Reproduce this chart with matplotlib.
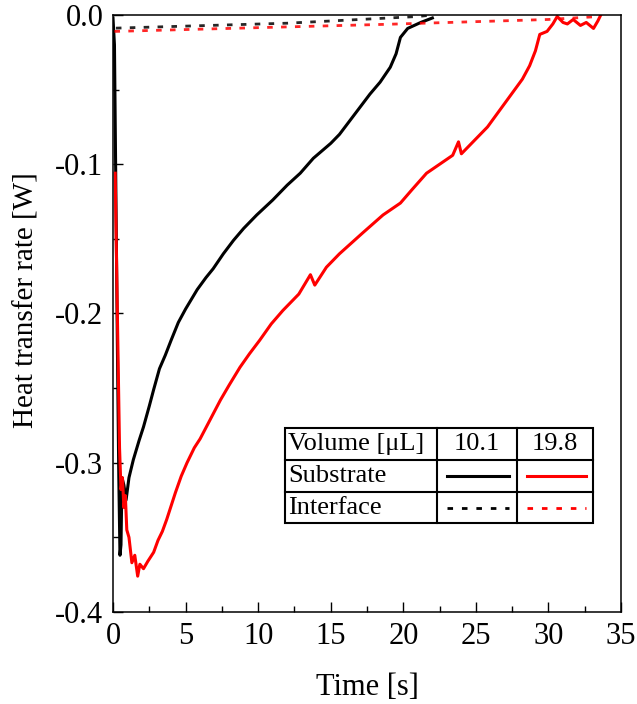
import numpy as np
import matplotlib
matplotlib.use("Agg")
import matplotlib.pyplot as plt
from matplotlib.ticker import MultipleLocator, FormatStrFormatter

plt.rcParams['font.family'] = ['Liberation Serif', 'DejaVu Serif']
plt.rcParams['axes.unicode_minus'] = False

# substrate heat transfer rate, 10.1 uL droplet (black)
t_sub_10 = [0.0, 0.1, 0.2, 0.3, 0.4, 0.48, 0.55, 0.62, 0.75, 0.9, 1.1, 1.4, 1.8,
            2.1, 2.5, 2.8, 3.2, 3.6, 4.0, 4.5, 5.0, 5.8, 6.4, 6.9, 7.6, 8.3, 9.0,
            9.9, 11.0, 12.0, 12.9, 13.8, 15.0, 15.6, 16.3, 17.0, 17.7, 18.4, 19.1,
            19.5, 19.8, 20.3, 21.2, 22.0]
q_sub_10 = [-0.002, -0.02, -0.12, -0.22, -0.31, -0.362, -0.355, -0.31, -0.315,
            -0.325, -0.31, -0.298, -0.285, -0.276, -0.262, -0.251, -0.237, -0.228,
            -0.218, -0.206, -0.197, -0.184, -0.176, -0.170, -0.160, -0.151, -0.143,
            -0.134, -0.124, -0.114, -0.106, -0.096, -0.086, -0.080, -0.071, -0.062,
            -0.053, -0.045, -0.035, -0.026, -0.015, -0.009, -0.005, -0.002]

# substrate heat transfer rate, 19.8 uL droplet (red)
t_sub_19 = [0.15, 0.3, 0.45, 0.55, 0.65, 0.75, 0.85, 0.95, 1.1, 1.3, 1.5, 1.7, 1.85,
            2.1, 2.4, 2.8, 3.1, 3.4, 3.7, 3.9, 4.3, 4.7, 5.1, 5.6, 6.0, 6.7, 7.4,
            8.0, 8.75, 9.4, 10.1, 10.9, 11.7, 12.8, 13.6, 13.9, 14.7, 15.6, 16.4,
            17.2, 17.9, 18.6, 19.2, 19.8, 20.6, 21.6, 22.5, 23.4, 23.8, 24.0, 24.9,
            25.8, 26.7, 27.6, 28.2, 28.7, 29.1, 29.4, 29.9, 30.3, 30.6, 31.0, 31.3,
            31.7, 32.2, 32.6, 33.1, 33.4, 33.6]
q_sub_19 = [-0.106, -0.2, -0.29, -0.318, -0.31, -0.33, -0.322, -0.345, -0.35,
            -0.367, -0.362, -0.376, -0.368, -0.371, -0.366, -0.360, -0.352, -0.346,
            -0.338, -0.332, -0.320, -0.309, -0.300, -0.290, -0.284, -0.271, -0.258,
            -0.248, -0.236, -0.227, -0.218, -0.207, -0.198, -0.187, -0.174, -0.181,
            -0.169, -0.160, -0.153, -0.146, -0.140, -0.134, -0.130, -0.126, -0.117,
            -0.106, -0.100, -0.094, -0.085, -0.093, -0.084, -0.075, -0.063, -0.051,
            -0.043, -0.034, -0.024, -0.013, -0.011, -0.006, -0.001, -0.005, -0.006,
            -0.003, -0.007, -0.005, -0.009, -0.004, 0.0]

# interface heat transfer rate
t_int_10 = [0.2, 12.0, 21.0, 22.0]
q_int_10 = [-0.0088, -0.0055, -0.001, 0.0]
t_int_19 = [0.1, 19.0, 30.0, 33.5]
q_int_19 = [-0.011, -0.0062, -0.003, -0.001]

volumes = ['10.1', '19.8']
colors = ['black', 'red']

fig = plt.figure(figsize=(6.37, 7.04), dpi=100)
ax = fig.add_axes([0.1774, 0.1307, 0.7976, 0.848])

ax.plot(t_sub_10, q_sub_10, color='black', lw=2.2)
ax.plot(t_sub_19, q_sub_19, color='red', lw=2.2)
ax.plot(t_int_10, q_int_10, color='black', lw=2.0, dashes=(2, 3), alpha=0.85)
ax.plot(t_int_19, q_int_19, color='red', lw=2.0, dashes=(2, 3), alpha=0.85)

ax.set_xlim(0, 35)
ax.set_ylim(-0.4, 0.0)
ax.set_xticks([0, 5, 10, 15, 20, 25, 30, 35])
ax.set_yticks([-0.4, -0.3, -0.2, -0.1, 0.0])
ax.yaxis.set_major_formatter(FormatStrFormatter('%.1f'))
ax.xaxis.set_minor_locator(MultipleLocator(2.5))
ax.yaxis.set_minor_locator(MultipleLocator(0.05))
ax.tick_params(which='both', direction='in', top=False, right=False,
               labelsize=22, width=1)
ax.tick_params(which='major', length=7)
ax.tick_params(which='minor', length=4)
ax.tick_params(axis='x', pad=7)
ax.tick_params(axis='y', pad=7)
for s in ax.spines.values():
    s.set_linewidth(1.1)

ax.set_xlabel('Time [s]', fontsize=22, labelpad=16)
ax.set_ylabel('Heat transfer rate [W]', fontsize=21)
ax.yaxis.set_label_coords(-0.145, 0.523)

# table-style legend
tr = ax.transAxes
xs = [0.3386, 0.638, 0.795, 0.945]
ys = [0.308, 0.2546, 0.201, 0.149]
ax.add_patch(plt.Rectangle((xs[0], ys[3]), xs[3] - xs[0], ys[0] - ys[3],
                           transform=tr, facecolor='white', edgecolor='black',
                           lw=1.5, zorder=5))
for y in ys[1:3]:
    ax.plot([xs[0], xs[3]], [y, y], transform=tr, color='black', lw=1.5, zorder=6)
for x in xs[1:3]:
    ax.plot([x, x], [ys[0], ys[3]], transform=tr, color='black', lw=1.5, zorder=6)

fs = 19
rows = ['Volume [μL]', 'Substrate', 'Interface']
for i, r in enumerate(rows):
    yc = (ys[i] + ys[i + 1]) / 2
    ax.text(xs[0] + 0.006, yc, r, transform=tr, fontsize=fs,
            ha='left', va='center', zorder=7)
for j, v in enumerate(volumes):
    xc = (xs[j + 1] + xs[j + 2]) / 2
    ax.text(xc, (ys[0] + ys[1]) / 2, v, transform=tr, fontsize=fs,
            ha='center', va='center', zorder=7)
    x0 = xs[j + 1] + 0.02
    x1 = xs[j + 2] - 0.015
    ax.plot([x0, x1], [(ys[1] + ys[2]) / 2] * 2, transform=tr,
            color=colors[j], lw=2.2, zorder=7)
    ax.plot([x0, x1], [(ys[2] + ys[3]) / 2] * 2, transform=tr,
            color=colors[j], lw=2.0, dashes=(2, 3.2), zorder=7)

fig.savefig('out.png', dpi=100)
